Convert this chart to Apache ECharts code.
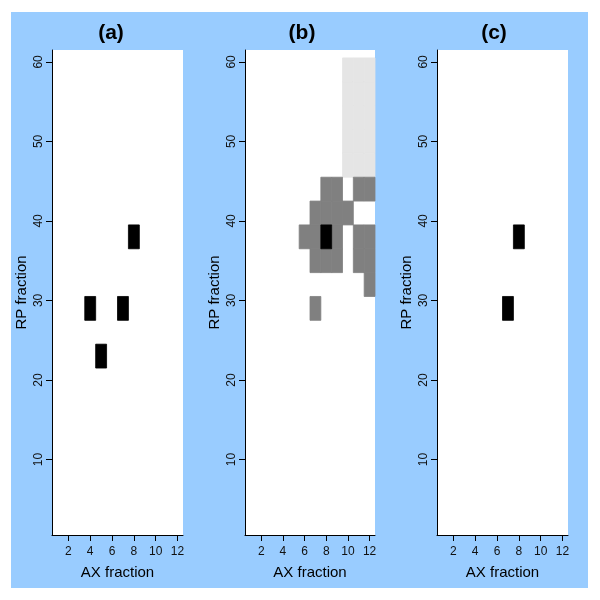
<!DOCTYPE html>
<html>
<head>
<meta charset="utf-8">
<script src="https://cdn.jsdelivr.net/npm/echarts@6/dist/echarts.min.js"></script>
<style>html,body{margin:0;padding:0;background:#fff}#c{width:600px;height:600px}</style>
</head>
<body>
<div id="c"></div>
<script>
// ---- data ----
const panelTitles = ['(a)', '(b)', '(c)'];
const xTicks = [2, 4, 6, 8, 10, 12];
const yTicks = [10, 20, 30, 40, 50, 60];
const xName = 'AX fraction';
const yName = 'RP fraction';
const rowHeight = 3; // each RP bin spans 3 fractions
// cells: [AX fraction, RP bin centre]
const aBlack = [[4, 29], [7, 29], [5, 23], [8, 38]];
const bLight = [[10, 59], [11, 59], [12, 59], [10, 56], [11, 56], [12, 56], [10, 53], [11, 53], [12, 53],
                [10, 50], [11, 50], [12, 50], [10, 47], [11, 47], [12, 47]];
const bDark = [[8, 44], [9, 44], [11, 44], [12, 44],
               [7, 41], [8, 41], [9, 41], [10, 41],
               [6, 38], [7, 38], [9, 38], [11, 38], [12, 38],
               [7, 35], [8, 35], [9, 35], [11, 35], [12, 35],
               [12, 32], [7, 29]];
const bBlack = [[8, 38]];
const cBlack = [[8, 38], [7, 29]];

const panels = [
  {layers: [{cells: aBlack, color: '#000000'}]},
  {layers: [{cells: bLight, color: '#e5e5e5'}, {cells: bDark, color: '#808080'}, {cells: bBlack, color: '#000000'}]},
  {layers: [{cells: cBlack, color: '#000000'}]}
];

const gridLefts = [52, 245, 437];
const gridWidths = [131, 130, 131];
const titleX = [111, 302, 494];
const font = 'Liberation Sans, Arial, Helvetica, sans-serif';

function makeRender(color) {
  return function (params, api) {
    const x = api.value(0), y = api.value(1);
    const p0 = api.coord([x - 0.5, y + rowHeight / 2]);
    const p1 = api.coord([x + 0.5, y - rowHeight / 2]);
    return {
      type: 'rect',
      shape: {x: p0[0], y: p0[1], width: p1[0] - p0[0], height: p1[1] - p0[1]},
      style: {fill: color, stroke: color, lineWidth: 0.8}
    };
  };
}

const grid = [], xAxis = [], yAxis = [], series = [], graphic = [];
graphic.push({type: 'rect', z: -100, shape: {x: 11, y: 12, width: 577, height: 576}, style: {fill: '#99ccff'}});
panels.forEach((p, i) => {
  grid.push({left: gridLefts[i], width: gridWidths[i], top: 50, height: 485, show: true, backgroundColor: '#ffffff', borderWidth: 0});
  xAxis.push({
    gridIndex: i, type: 'value', min: 0.5, max: 12.5,
    splitLine: {show: false},
    axisLine: {show: true, onZero: false, lineStyle: {color: '#000', width: 1}},
    axisTick: {show: true, length: 6, customValues: xTicks, lineStyle: {color: '#000'}},
    axisLabel: {customValues: xTicks, fontSize: 12, color: '#111', margin: 11, fontFamily: font},
    name: xName, nameLocation: 'middle', nameGap: 30,
    nameTextStyle: {fontSize: 15, color: '#000', fontFamily: font}
  });
  yAxis.push({
    gridIndex: i, type: 'value', min: 0.5, max: 61.5,
    splitLine: {show: false},
    axisLine: {show: true, onZero: false, lineStyle: {color: '#000', width: 1}},
    axisTick: {show: true, length: 6, customValues: yTicks, lineStyle: {color: '#000'}},
    axisLabel: {customValues: yTicks, rotate: 90, fontSize: 12, color: '#111', margin: 7, fontFamily: font},
    name: yName, nameLocation: 'middle', nameGap: 23, nameRotate: 90,
    nameTextStyle: {fontSize: 15, color: '#000', fontFamily: font}
  });
  p.layers.forEach(l => {
    series.push({
      type: 'custom', xAxisIndex: i, yAxisIndex: i,
      renderItem: makeRender(l.color), data: l.cells, silent: true, animation: false,
      encode: {x: 0, y: 1}
    });
  });
  graphic.push({type: 'text', x: titleX[i], y: 33, style: {text: panelTitles[i], font: 'bold 21px ' + font, fill: '#000', textAlign: 'center', textVerticalAlign: 'middle'}});
});

const chart = echarts.init(document.getElementById('c'), null, {renderer: 'canvas'});
chart.setOption({backgroundColor: '#ffffff', animation: false, grid, xAxis, yAxis, series, graphic});
</script>
</body>
</html>
